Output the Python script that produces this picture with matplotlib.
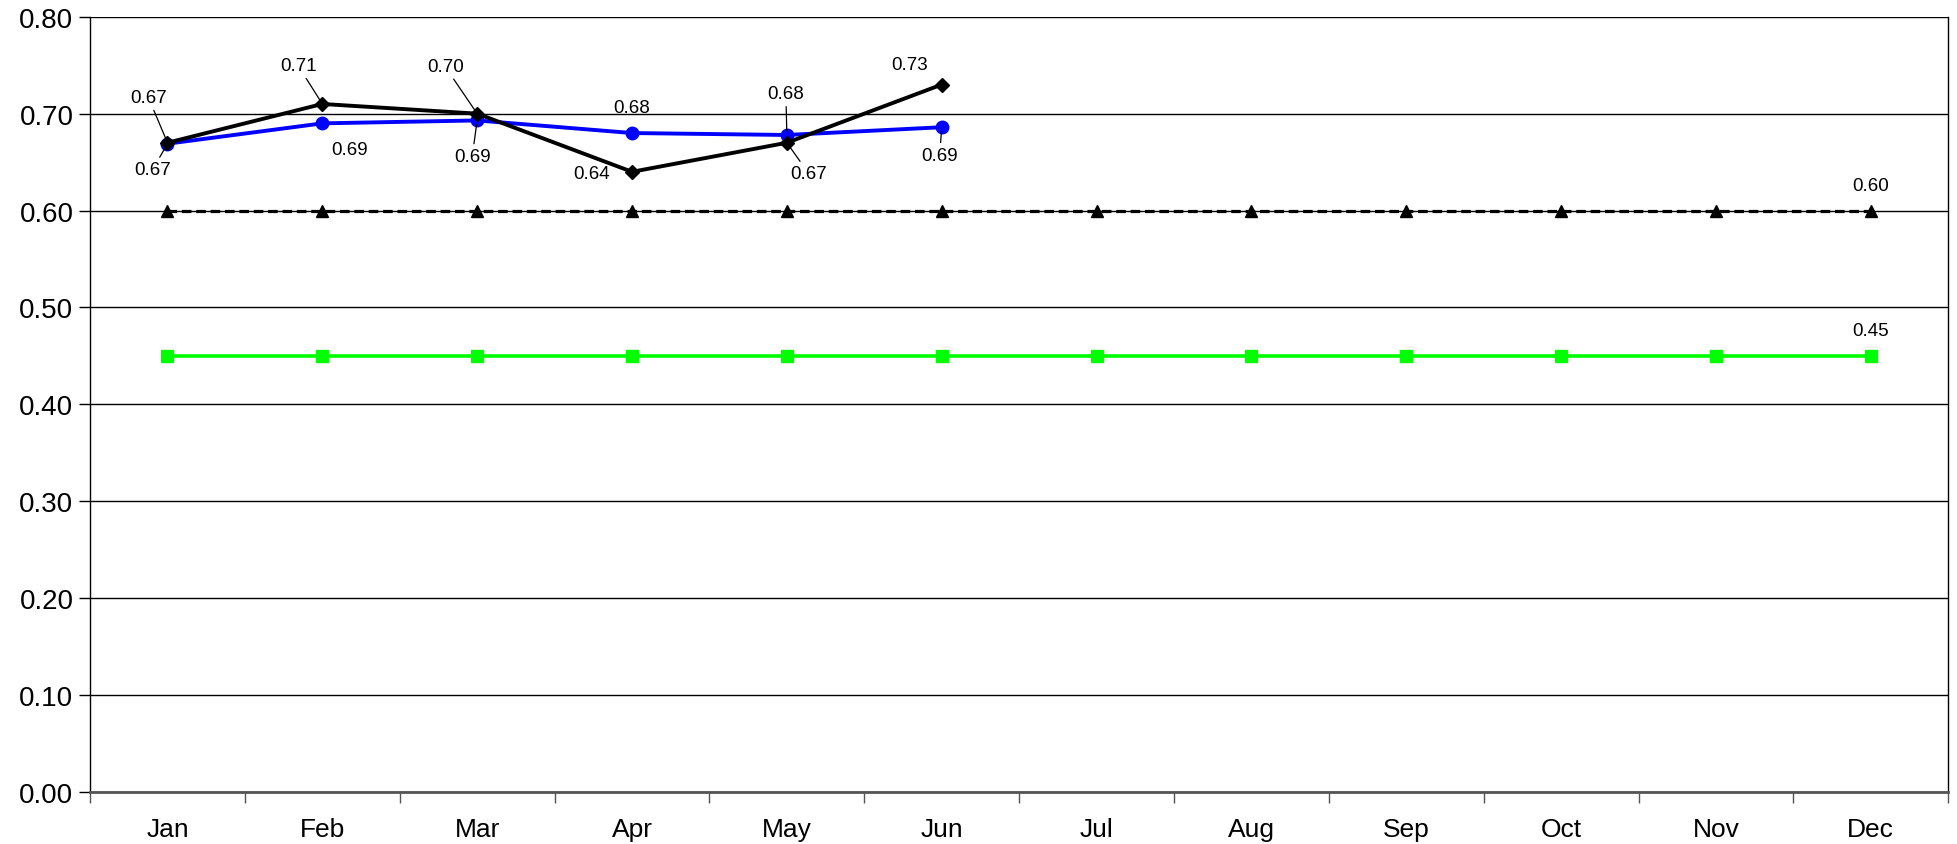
import matplotlib
matplotlib.use("Agg")
import matplotlib.pyplot as plt

plt.rcParams["font.family"] = ["Liberation Sans", "DejaVu Sans"]

months = ["Jan", "Feb", "Mar", "Apr", "May", "Jun",
          "Jul", "Aug", "Sep", "Oct", "Nov", "Dec"]
actual = [0.67, 0.71, 0.70, 0.64, 0.67, 0.73]
ytd = [0.669, 0.69, 0.693, 0.68, 0.678, 0.686]
target = [0.60] * 12
floor = [0.45] * 12

# label offsets in pixels (dx, dy) and whether a leader line is drawn
actual_lbl = [(-19, 45, True), (-24, 38, True), (-32, 47, True),
              (-40, -2, False), (22, -31, True), (-32, 20, False)]
ytd_lbl = [(-15, -26, True), (27, -26, False), (-5, -36, True),
           (0, 26, False), (-1, 41, True), (-2, -28, True)]

fig = plt.figure(figsize=(19.58, 8.45), dpi=100)
ax = fig.add_axes([0.046, 0.0615, 0.949, 0.9175])
x = list(range(12))

ax.plot(x, floor, color="#00ff00", lw=2.6, marker="s", ms=8.5, zorder=3)
ax.plot(x, target, color="black", lw=2.3, ls=(0, (3, 1.5)), marker="^", ms=9, zorder=3)
ax.plot(x[:6], ytd, color="#0000ff", lw=2.8, marker="o", ms=9, zorder=4)
ax.plot(x[:6], actual, color="black", lw=2.8, marker="D", ms=7.5, zorder=5)


def label(xi, yi, dx, dy, line):
    props = dict(arrowstyle="-", lw=0.9, color="black", shrinkA=1, shrinkB=3) if line else None
    ax.annotate(f"{yi:.2f}", (xi, yi), xytext=(dx, dy), textcoords="offset pixels",
                ha="center", va="center", fontsize=13.5, arrowprops=props, zorder=6)


for i, (v, (dx, dy, ln)) in enumerate(zip(actual, actual_lbl)):
    label(i, v, dx, dy, ln)
for i, (v, (dx, dy, ln)) in enumerate(zip(ytd, ytd_lbl)):
    label(i, v, dx, dy, ln)
label(11, target[-1], 0, 25, False)
label(11, floor[-1], 0, 25, False)

ax.set_xlim(-0.5, 11.5)
ax.set_ylim(0, 0.8)
ax.set_yticks([i / 10 for i in range(9)])
ax.set_yticklabels([f"{i / 10:.2f}" for i in range(9)], fontsize=20)
ax.set_xticks(x)
ax.set_xticklabels(months, fontsize=19)
ax.set_xticks([i - 0.5 for i in range(13)], minor=True)
ax.tick_params(axis="x", which="major", length=0, pad=18)
ax.tick_params(axis="x", which="minor", length=8, width=1, color="#555555")
ax.tick_params(axis="y", length=8, width=1, pad=4)
ax.grid(axis="y", color="black", lw=1)
ax.set_axisbelow(True)
ax.spines["top"].set_visible(False)
ax.spines["right"].set_linewidth(1)
ax.spines["left"].set_linewidth(1)
ax.spines["bottom"].set_linewidth(2)
ax.spines["bottom"].set_color("#555555")

fig.savefig("out.png", dpi=100)
